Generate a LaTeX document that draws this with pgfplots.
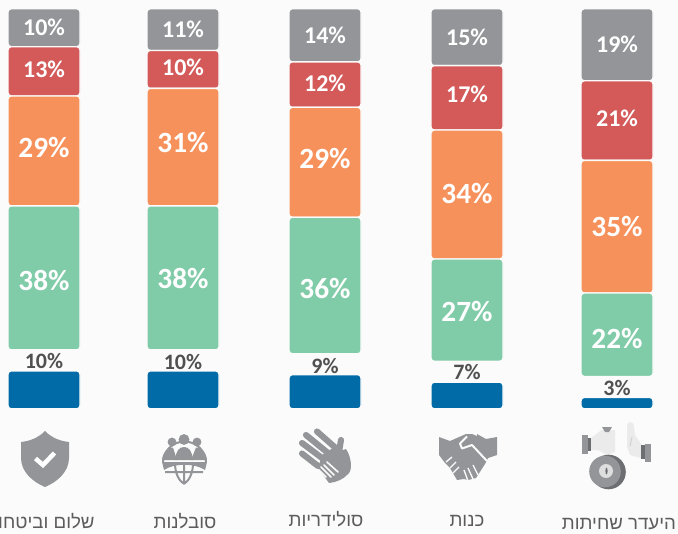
\documentclass[border=0pt]{standalone}
\usepackage{fontspec}
\setmainfont{Carlito}
\newfontfamily\hebfont[Script=Hebrew]{Liberation Sans}
\TeXXeTstate=1
\usepackage{pgfplots}
\usepackage{pgfplotstable}
\pgfplotsset{compat=1.18}
\definecolor{bgc}{HTML}{FBFBFB}
\definecolor{cgray}{HTML}{939598}
\definecolor{cdark}{HTML}{6D6E71}
\definecolor{cred}{HTML}{D45A5A}
\definecolor{corange}{HTML}{F7915B}
\definecolor{cgreen}{HTML}{80CBA8}
\definecolor{cblue}{HTML}{006BA6}
\definecolor{ctext}{HTML}{505050}
\definecolor{ccat}{HTML}{5C5C5C}

% gap: empty piece of the stack that holds the label of the blue bar
% sgap, sgreen, sorange, sred: small label shifts, in pt, upwards
\pgfplotstableread{
x   blue gap  green orange red gray sgap  sgreen sorange sred
44  10   5.54 38    29     13  10   -0.75 -2.25  2.25    1.5
183 10   5.54 38    31     10  11   -1.5  -0.75  3.75    1.5
325 9    5.54 36    29     12  14   -1.5  -2.25  3       0.75
467 7    5.54 27    34     17  15   0     -0.75  0.75    3
617 3    5.54 22    35     21  19   -0.75 -3     0       1.5
}\datatable

\begin{document}
\begin{tikzpicture}
\path[use as bounding box] (0,0) rectangle (508.5pt,399.75pt);
\clip (0,0) rectangle (508.5pt,399.75pt);
\fill[bgc] (0,0) rectangle (508.5pt,399.75pt);
\begin{axis}[
  at={(0,0)}, anchor=south west,
  scale only axis, width=508.5pt, height=399.75pt,
  xmin=0, xmax=678, ymin=-32.77, ymax=107.86,
  axis lines=none,
  ybar stacked, bar width=54pt,
  clip=false,
  point meta=explicit symbolic,
  nodes near coords={\pgfplotspointmeta\%},
  every axis plot/.append style={
    draw=bgc, line width=1pt, rounded corners=2.4pt,
  },
]
\addplot[fill=cblue, nodes near coords={}] table[x=x,y=blue,meta=blue] {\datatable};
\addplot[fill=none, draw=none,
  visualization depends on=\thisrow{sgap}\as\lshift,
  nodes near coords style={font=\bfseries\fontsize{16.5}{17}\selectfont, text=ctext, yshift=\lshift pt}]
  table[x=x,y=gap,meta=blue] {\datatable};
\addplot[fill=cgreen,
  visualization depends on=\thisrow{sgreen}\as\lshift,
  nodes near coords style={font=\bfseries\fontsize{22}{23}\selectfont, text=white, yshift=\lshift pt}]
  table[x=x,y=green,meta=green] {\datatable};
\addplot[fill=corange,
  visualization depends on=\thisrow{sorange}\as\lshift,
  nodes near coords style={font=\bfseries\fontsize{22}{23}\selectfont, text=white, yshift=\lshift pt}]
  table[x=x,y=orange,meta=orange] {\datatable};
\addplot[fill=cred,
  visualization depends on=\thisrow{sred}\as\lshift,
  nodes near coords style={font=\bfseries\fontsize{18}{19}\selectfont, text=white, yshift=\lshift pt}]
  table[x=x,y=red,meta=red] {\datatable};
\addplot[fill=cgray, nodes near coords style={font=\bfseries\fontsize{18}{19}\selectfont, text=white}]
  table[x=x,y=gray,meta=gray] {\datatable};
\end{axis}

% category names and icons, in pixels of the reference
\begin{scope}[x=.75pt,y=-.75pt,yshift=399.75pt]
\tikzset{cat/.style={text=ccat, font=\hebfont\fontsize{14}{15}\selectfont, inner sep=0pt}}
\node[cat] at (44,523) {\beginR שלום וביטחון\endR};
\node[cat] at (185,521) {\beginR סובלנות\endR};
\node[cat] at (326,519) {\beginR סולידריות\endR};
\node[cat] at (467,521) {\beginR כנות\endR};
\node[cat] at (619,524) {\beginR היעדר שחיתות\endR};

% shield
\fill[cgray] (45,431) .. controls (38,438) and (30,441) .. (21,442) -- (21,458)
  .. controls (21,472) and (33,482) .. (45,487) .. controls (57,482) and (69,472) .. (69,458)
  -- (69,442) .. controls (60,441) and (52,438) .. (45,431) -- cycle;
\draw[white, line width=3.4pt] (35.5,458.5) -- (43,465) -- (54.5,453);

% people and globe
\fill[cgray] (172,442) circle (4.4) (184,439.5) circle (5.4) (197,442) circle (4.4);
\fill[cgray] (162,460) .. controls (163,452) and (167,448) .. (173,447.5) -- (177,460) -- cycle;
\fill[cgray] (207,460) .. controls (206,452) and (202,448) .. (196,447.5) -- (191,460) -- cycle;
\fill[cgray] (175,460) .. controls (176,451) and (179,447) .. (184,447) .. controls (189,447) and (192,451) .. (193,460) -- cycle;
\draw[cgray, line width=1.5pt] (163,463) arc (180:360:21.5)
  (165,472) -- (203,472)
  (184,463) -- (184,484)
  (175,463) .. controls (175,472) and (178,480) .. (184,484)
  (193,463) .. controls (193,472) and (190,480) .. (184,484);
\fill[cgray] (162,462) -- (207,462) -- (205,470) .. controls (195,463) and (174,463) .. (164,470) -- cycle;

% hands
\draw[cgray, line width=4.6pt, line cap=round]
  (317,431.5) -- (338,450) (306,435) -- (328,453)
  (302,443) -- (322,458) (302,453.5) -- (318,466)
  (341,440) -- (339,452);
\fill[cgray] (336,446) -- (343,450) -- (346,449) .. controls (352,458) and (352,470) .. (349,473)
  .. controls (345,478) and (338,482) .. (329,483) -- (318,468) -- (322,455) -- cycle;
\draw[bgc, line width=1.2pt, line cap=round]
  (327,462) -- (338,472) (324,465) -- (334,475) (321,467) -- (331,477) (319,470) -- (326,477);

% handshake
\fill[cgray] (439,437) -- (450,441) -- (466,434) -- (472,434) -- (477,436) -- (477,434)
  -- (486,439) -- (497,437) -- (497,455) -- (488,458) -- (485,464) -- (476,478)
  -- (468,480) -- (464,479) -- (457,480) -- (450,468) -- (445,463) -- (439,455) -- cycle;
\draw[bgc, line width=1.5pt, line join=round]
  (467,436.5) -- (460,443.5) -- (462,448.5) -- (472,445) -- (487,461);
\draw[bgc, line width=1pt]
  (446,462) -- (452,457) (450,468) -- (456,462) (453,473) -- (459,467)
  (468,481) -- (464,470) (473,479) -- (468,468) (478,475) -- (473,465);

% lack of corruption
\fill[cgray] (582,435) rectangle (588,453.5);
\fill[cdark] (588,437.5) rectangle (591,451);
\fill[black!8] (591,438) -- (601.5,430) -- (615,430) -- (615,452) -- (607,455) -- (598,450) -- (591,450) -- cycle;
\fill[cgray] (602,427) -- (612,427) -- (609,432) -- (605,432) -- cycle;
\fill[black!8] (627,424) .. controls (630,421) and (633,422) .. (634,426) -- (635,435) -- (642,445)
  -- (641,458) -- (630,455) -- (627,447) -- cycle;
\draw[black!18, line width=.7pt] (630,446) -- (632,437);
\fill[cgray] (645,443.5) rectangle (651,461.5);
\fill[cdark] (641,445) rectangle (645,459);
\fill[cdark] (608.5,472) circle (17.3);
\fill[cgray] (605,471.5) circle (15.8);
\fill[black!13] (606,471) circle (7);
\fill[cdark] (606.5,471) ellipse (1.1 and 3.4);
\end{scope}
\end{tikzpicture}
\end{document}
